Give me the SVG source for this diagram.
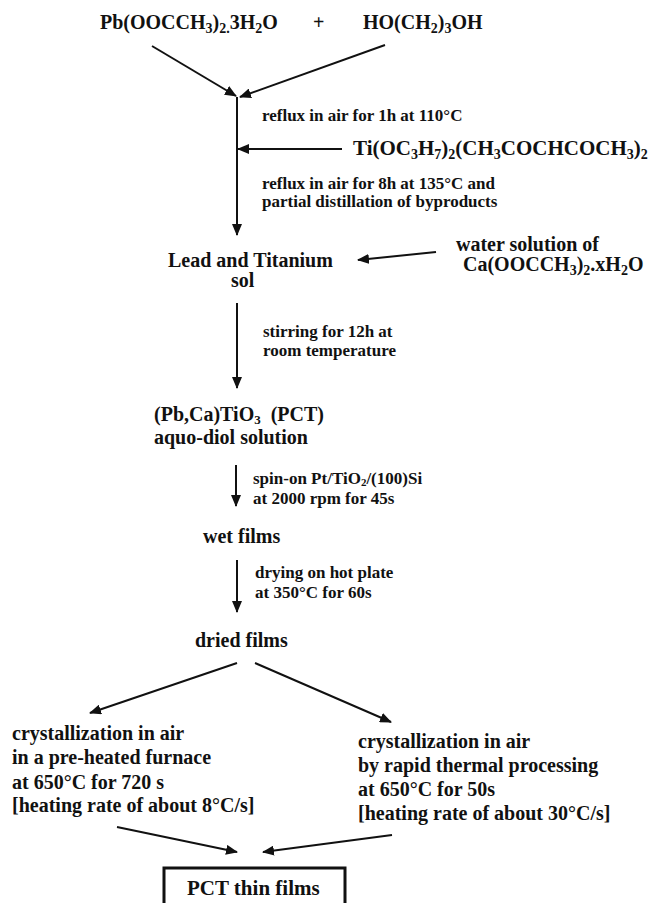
<svg xmlns="http://www.w3.org/2000/svg" width="648" height="903" viewBox="0 0 648 903">
<style>
text{font-family:"Liberation Serif","Times New Roman",serif;font-weight:bold;fill:#111}
.n{font-size:20px}
.s{font-size:17px}
.b{font-size:20px}
.f{font-size:21px}
.c line{stroke:#111;stroke-width:2;marker-end:url(#ah)}
</style>
<defs>
<marker id="ah" markerUnits="userSpaceOnUse" markerWidth="12" markerHeight="10" refX="11" refY="5" orient="auto">
<path d="M0,0 L12,5 L0,10 Z" fill="#111"/>
</marker>
</defs>
<rect width="648" height="903" fill="#fff"/>
<g id="reactant1"><text class="n" x="100" y="29">Pb(OOCCH<tspan dy="4" font-size="14">3</tspan><tspan dy="-4">)</tspan><tspan dy="4" font-size="14">2.</tspan><tspan dy="-4">3H</tspan><tspan dy="4" font-size="14">2</tspan><tspan dy="-4">O</tspan></text></g>
<g id="plus"><text class="n" x="313" y="29">+</text></g>
<g id="reactant2"><text class="n" x="363" y="29">HO(CH<tspan dy="4" font-size="14">2</tspan><tspan dy="-4">)</tspan><tspan dy="4" font-size="14">3</tspan><tspan dy="-4">OH</tspan></text></g>
<g id="step1"><text class="s" x="262" y="121">reflux in air for 1h at 110°C</text></g>
<g id="ti"><text class="f" x="353" y="155">Ti(OC<tspan dy="4" font-size="14">3</tspan><tspan dy="-4">H</tspan><tspan dy="4" font-size="14">7</tspan><tspan dy="-4">)</tspan><tspan dy="4" font-size="14">2</tspan><tspan dy="-4">(CH</tspan><tspan dy="4" font-size="14">3</tspan><tspan dy="-4">COCHCOCH</tspan><tspan dy="4" font-size="14">3</tspan><tspan dy="-4">)</tspan><tspan dy="4" font-size="14">2</tspan></text></g>
<g id="step2"><text class="s" x="262" y="189">reflux in air for 8h at 135°C and</text><text class="s" x="262" y="207">partial distillation of byproducts</text></g>
<g id="sol"><text class="n" x="168" y="267">Lead and Titanium</text><text class="n" x="231" y="287">sol</text></g>
<g id="ca"><text class="n" x="456" y="251">water solution of</text><text class="n" x="463" y="271">Ca(OOCCH<tspan dy="4" font-size="14">3</tspan><tspan dy="-4">)</tspan><tspan dy="4" font-size="14">2</tspan><tspan dy="-4">.xH</tspan><tspan dy="4" font-size="14">2</tspan><tspan dy="-4">O</tspan></text></g>
<g id="step3"><text class="s" x="263" y="337">stirring for 12h at</text><text class="s" x="263" y="356">room temperature</text></g>
<g id="pct"><text class="n" x="154" y="421">(Pb,Ca)TiO<tspan dy="3" font-size="13">3</tspan><tspan dy="-3" xml:space="preserve">  (PCT)</tspan></text><text class="n" x="154" y="444">aquo-diol solution</text></g>
<g id="step4"><text class="s" x="253" y="484">spin-on Pt/TiO<tspan dy="2" font-size="11">2</tspan><tspan dy="-2">/(100)Si</tspan></text><text class="s" x="253" y="504">at 2000 rpm for 45s</text></g>
<g id="wet"><text class="n" x="203" y="543">wet films</text></g>
<g id="step5"><text class="s" x="255" y="578">drying on hot plate</text><text class="s" x="255" y="598">at 350°C for 60s</text></g>
<g id="dried"><text class="n" x="195" y="647">dried films</text></g>
<g id="furnace"><text class="b" x="12" y="740">crystallization in air</text><text class="b" x="12" y="764">in a pre-heated furnace</text><text class="b" x="12" y="789">at 650°C for 720 s</text><text class="b" x="12" y="812">[heating rate of about 8°C/s]</text></g>
<g id="rtp"><text class="b" x="358" y="748">crystallization in air</text><text class="b" x="358" y="772">by rapid thermal processing</text><text class="b" x="358" y="796">at 650°C for 50s</text><text class="b" x="358" y="820">[heating rate of about 30°C/s]</text></g>
<g id="final"><rect x="164" y="868" width="181" height="50" fill="none" stroke="#111" stroke-width="3"/><text class="f" x="187" y="895">PCT thin films</text></g>
<g id="connectors" class="c">
<line x1="152" y1="46" x2="236" y2="96"/>
<line x1="385" y1="45" x2="240" y2="97"/>
<line x1="237" y1="97" x2="237" y2="235"/>
<line x1="342" y1="149" x2="238" y2="149"/>
<line x1="436" y1="252" x2="358" y2="260"/>
<line x1="237" y1="303" x2="237" y2="388"/>
<line x1="236" y1="465" x2="236" y2="506"/>
<line x1="237" y1="560" x2="237" y2="612"/>
<line x1="237" y1="663" x2="90" y2="713"/>
<line x1="255" y1="663" x2="391" y2="722"/>
<line x1="117" y1="827" x2="237" y2="852"/>
<line x1="392" y1="835" x2="263" y2="852"/>
</g>
</svg>
